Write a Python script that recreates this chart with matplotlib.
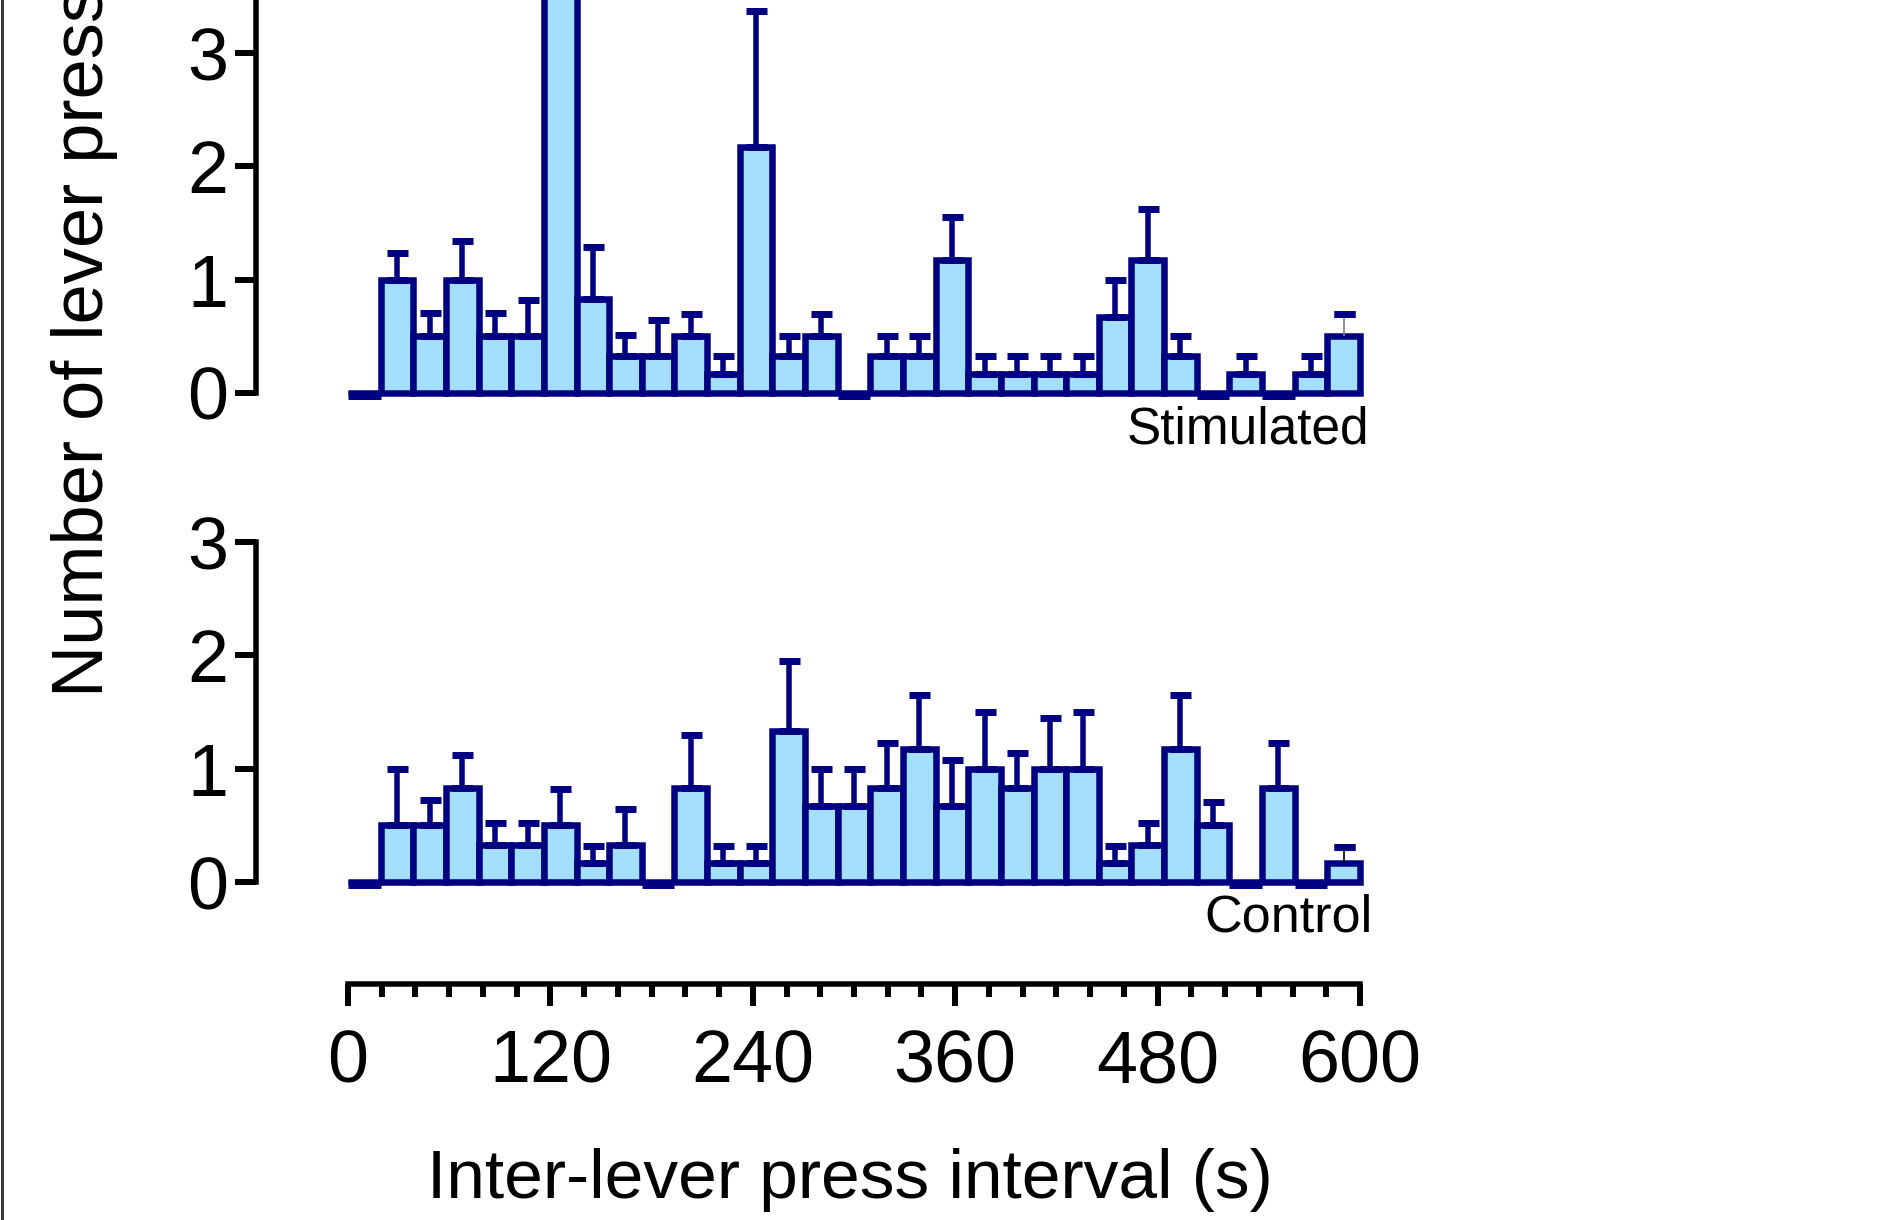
import matplotlib
matplotlib.use("Agg")
import matplotlib.pyplot as plt
from matplotlib.lines import Line2D
from matplotlib.ticker import MultipleLocator
import numpy as np

plt.rcParams['font.family'] = ['Liberation Sans', 'DejaVu Sans']

# 20 s bins, one bar per bin centre
binCenters = [0, 20, 40, 60, 80, 100, 120, 140, 160, 180, 200, 220, 240, 260, 280, 300,
              320, 340, 360, 380, 400, 420, 440, 460, 480, 500, 520, 540, 560, 580, 600]

stimMean = [0, 1.0, 0.5, 1.0, 0.5, 0.5, 4.5, 0.83, 0.33, 0.33, 0.5, 0.17, 2.17, 0.33, 0.5, 0,
            0.33, 0.33, 1.17, 0.17, 0.17, 0.17, 0.17, 0.67, 1.17, 0.33, 0, 0.17, 0, 0.17, 0.5]
stimSem = [0, 0.24, 0.21, 0.34, 0.21, 0.32, 1.2, 0.46, 0.18, 0.31, 0.2, 0.16, 1.2, 0.17, 0.2, 0,
           0.17, 0.17, 0.38, 0.16, 0.16, 0.16, 0.16, 0.33, 0.45, 0.17, 0, 0.16, 0, 0.16, 0.2]

ctrlMean = [0, 0.5, 0.5, 0.83, 0.33, 0.33, 0.5, 0.17, 0.33, 0, 0.83, 0.17, 0.17, 1.33, 0.67, 0.67,
            0.83, 1.17, 0.67, 1.0, 0.83, 1.0, 1.0, 0.17, 0.33, 1.17, 0.5, 0, 0.83, 0, 0.17]
ctrlSem = [0, 0.5, 0.22, 0.29, 0.19, 0.19, 0.32, 0.15, 0.31, 0, 0.47, 0.15, 0.15, 0.62, 0.33, 0.33,
           0.4, 0.48, 0.41, 0.5, 0.31, 0.45, 0.5, 0.15, 0.19, 0.48, 0.21, 0, 0.4, 0, 0.14]

xTicks = [0, 120, 240, 360, 480, 600]

FILL = '#A3DFFC'
EDGE = '#000080'
W, H = 1901, 1220
PT = 0.72  # points per pixel at dpi 100
CAP = 10.5 * PT  # errorbar doubles this for the cap length


def pxBox(left, top, right, bottom):
    return [left / W, 1 - bottom / H, (right - left) / W, (bottom - top) / H]


def histPanel(fig, box, mean, sem, ymax, spineTop, lastColor, lastWidth):
    ax = fig.add_axes(box)
    ax.bar(binCenters, mean, width=20, color=FILL, edgecolor=EDGE, linewidth=6.5 * PT,
           zorder=2, clip_on=False)

    x = np.array(binCenters, dtype=float)
    m = np.array(mean)
    s = np.array(sem)

    # empty bins show up as a flat thick stroke on the baseline
    empty = m == 0
    ax.hlines(np.zeros(empty.sum()) - 0.02, x[empty] - 10, x[empty] + 10, colors=EDGE,
              linewidth=9 * PT, zorder=2, clip_on=False)

    keep = s > 0
    keep[-1] = False
    ax.errorbar(x[keep], m[keep], yerr=[np.zeros(keep.sum()), s[keep]], fmt='none',
                ecolor=EDGE, elinewidth=5.5 * PT, capsize=CAP, capthick=7 * PT,
                zorder=3, clip_on=False)
    # last bin's whisker is drawn as a hairline, cap kept thick
    ax.errorbar(x[-1:], m[-1:], yerr=[[0], s[-1:]], fmt='none', ecolor=lastColor,
                elinewidth=lastWidth, capsize=0, zorder=3, clip_on=False)
    ax.errorbar(x[-1:], m[-1:] + s[-1:], yerr=[[0], [0]], fmt='none', ecolor=EDGE,
                elinewidth=0, capsize=CAP, capthick=7 * PT, zorder=3, clip_on=False)

    ax.set_xlim(-10, 610)
    ax.set_ylim(0, ymax)
    ax.set_yticks(range(0, int(ymax) + 1))
    for side in ['top', 'right', 'bottom']:
        ax.spines[side].set_visible(False)
    ax.spines['left'].set_position(('outward', (348 - 256) * PT))
    ax.spines['left'].set_linewidth(5.5 * PT)
    ax.spines['left'].set_bounds(0, spineTop)
    ax.tick_params(axis='y', direction='out', length=21 * PT, width=6 * PT,
                   labelsize=53, pad=5)
    ax.tick_params(axis='x', bottom=False, labelbottom=False)
    ax.patch.set_visible(False)
    return ax


fig = plt.figure(figsize=(W / 100, H / 100), dpi=100)

y0Top = 393
y0Bot = 882
unit = 113.3

histPanel(fig, pxBox(348, y0Top - 4 * unit, 1360, y0Top), stimMean, stimSem, 4, 4,
          '#808080', 1.2)
histPanel(fig, pxBox(348, y0Bot - 3 * unit, 1360, y0Bot), ctrlMean, ctrlSem, 3, 3,
          'black', 1.2)

fig.text(1369 / W, 1 - 444 / H, 'Stimulated', ha='right', va='baseline', fontsize=37)
fig.text(1373 / W, 1 - 932 / H, 'Control', ha='right', va='baseline', fontsize=37.5)

# stand-alone time axis under both panels
axX = fig.add_axes(pxBox(348, 983, 1360, 984))
axX.set_xlim(0, 600)
axX.set_xticks(xTicks)
axX.xaxis.set_minor_locator(MultipleLocator(20))
for side in ['top', 'right', 'left']:
    axX.spines[side].set_visible(False)
axX.spines['bottom'].set_linewidth(5.5 * PT)
axX.set_yticks([])
axX.tick_params(axis='x', which='major', direction='out', length=22 * PT, width=6 * PT,
                labelsize=53, pad=16)
axX.tick_params(axis='x', which='minor', direction='out', length=13 * PT, width=6 * PT)
axX.patch.set_visible(False)

fig.text(850 / W, 1 - 1198 / H, 'Inter-lever press interval (s)', ha='center',
         va='baseline', fontsize=50)
fig.text(103 / W, 1 - 697 / H, 'Number of lever presses', rotation=90,
         rotation_mode='anchor', ha='left', va='baseline', fontsize=52)

fig.add_artist(Line2D([1.5 / W, 1.5 / W], [0, 1], transform=fig.transFigure,
                      color='#3a3a3a', linewidth=3 * PT))

fig.savefig('out.png', dpi=100)
